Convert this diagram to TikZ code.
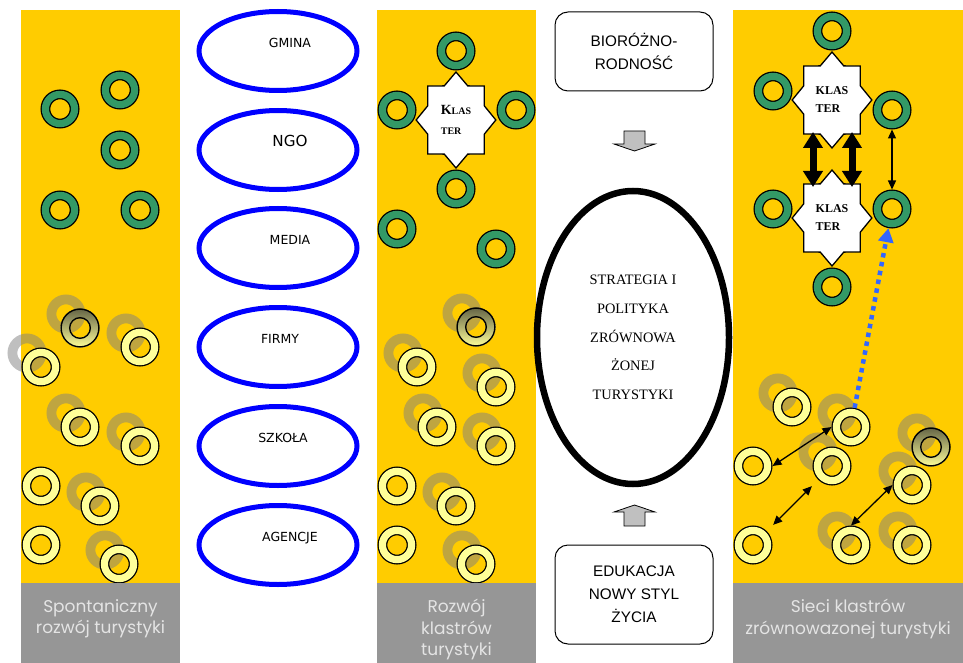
\documentclass[tikz,border=0pt]{standalone}
\usepackage{fontspec}
\usetikzlibrary{arrows.meta,shapes.geometric,calc}
\newfontfamily\orgfont{DejaVu Sans}
\newfontfamily\boxfont{Liberation Sans}
\newfontfamily\serffont{Liberation Serif}
\newfontfamily\capfont{Poppins}
\definecolor{panelCol}{RGB}{255,204,0}
\definecolor{capCol}{RGB}{150,150,150}
\definecolor{capText}{RGB}{228,228,228}
\definecolor{ringGreen}{RGB}{51,153,102}
\definecolor{ringYellow}{RGB}{255,255,153}
\definecolor{gradTop}{RGB}{100,100,70}
\definecolor{netBlue}{RGB}{51,102,255}
\definecolor{arrGray}{RGB}{192,192,192}
\newcommand\olab[2]{\hspace*{#1}\raisebox{3.5pt}[0pt][0pt]{#2}}
\newcommand\sx[1]{\scalebox{1.2}[1]{#1}}
\tikzset{
  ring/.style={circle,draw=black,line width=1.3pt,double distance=7.2pt,
               minimum size=29.2pt,inner sep=0pt,outer sep=4.9pt},
  grn/.style={ring,double=ringGreen},
  ylw/.style={ring,double=ringYellow},
  shd/.style={draw=black!50,line width=9.8pt,opacity=0.5},
  klas/.style={star,star points=8,star point ratio=1.3,draw,line width=1.3pt,fill=white,
               minimum size=96pt,inner sep=0pt,xscale=0.83,align=left},
  org/.style={ellipse,draw=blue,line width=5pt,minimum width=158pt,minimum height=79pt,
              inner sep=0pt,font=\orgfont\fontsize{12.5}{15}\selectfont},
  note/.style={draw,rounded corners=13pt,line width=1pt,minimum width=158pt,align=center,
               font=\boxfont\fontsize{15.3}{22.8}\selectfont},
  captxt/.style={anchor=north,align=center,inner sep=0pt,text=capText,
              font=\capfont\fontsize{17}{21.5}\selectfont},
  blk/.style={draw,fill=arrGray,line width=0.8pt},
}

\begin{document}
\begin{tikzpicture}[x=1pt,y=-1pt,
      fat/.style={{Triangle[length=16pt,width=19pt]}-{Triangle[length=16pt,width=19pt]},line width=7pt},
      dbl/.style={{Triangle[length=9pt,width=8pt]}-{Triangle[length=9pt,width=8pt]},line width=1.3pt},
      net/.style={-{Triangle[length=14pt,width=15pt]},draw=netBlue,line width=4.5pt,
                  dash pattern=on 4.5pt off 4.5pt}]
    \useasboundingbox (0,0) rectangle (963,663);
    % yellow panels
    \foreach \xa/\xb in {21/180,377/536,733/963}
       \fill[panelCol] (\xa,10) rectangle (\xb,583);
    % shadows under the yellow rings
    \foreach \x/\y in {80/328,140/347,41/367,80/427,140/446,100/506,119/564,
                       476/327,417/367,496/387,437/427,496/446,456/506,476/564,
                       792/407,851/427,832/466,931/447,912/485,851/545,912/545}
       \draw[shd] (\x-14,\y-14) circle (14.6pt);
    % clusters
    \node[klas,font=\serffont\bfseries\fontsize{10}{20}\selectfont] (klB) at (456,120)
       {\sx{{\fontsize{14}{20}\selectfont K}LAS}\\\sx{TER}};
    \node[klas,font=\serffont\bfseries\fontsize{12}{18}\selectfont] (klC1) at (832,100) {\sx{KLAS}\\\sx{TER}};
    \node[klas,font=\serffont\bfseries\fontsize{12}{18}\selectfont] (klC2) at (832,218) {\sx{KLAS}\\\sx{TER}};
    % green rings
    \foreach \x/\y [count=\i] in {60/109,120/90,120/150,60/210,140/210}
       \node[grn] (gA\i) at (\x,\y) {};
    \foreach \x/\y [count=\i] in {456/51,397/110,516/110,456/189,397/229,496/249}
       \node[grn] (gB\i) at (\x,\y) {};
    \foreach \x/\y [count=\i] in {832/31,773/91,892/110,773/209,892/209,832/287}
       \node[grn] (gC\i) at (\x,\y) {};
    % yellow rings
    \foreach \x/\y [count=\i] in {80/328,140/347,41/367,80/427,140/446,41/486,100/506,41/545,119/564}
       \node[ylw] (yA\i) at (\x,\y) {};
    \foreach \x/\y [count=\i] in {476/327,417/367,496/387,437/427,496/446,397/486,456/506,397/545,476/564}
       \node[ylw] (yB\i) at (\x,\y) {};
    \foreach \x/\y [count=\i] in {792/407,851/427,753/466,832/466,931/447,912/485,753/545,851/545,912/545}
       \node[ylw] (yC\i) at (\x,\y) {};
    \foreach \g in {yA1,yB1,yC5}{
       \shade[top color=gradTop,bottom color=ringYellow,even odd rule]
          (\g.center) circle (19.5pt) (\g.center) circle (9.7pt);
       \draw[line width=1.3pt] (\g.center) circle (18.85pt) (\g.center) circle (10.35pt);
    }
    % links in the network panel
    \draw[fat] ([xshift=-19pt,yshift=-32pt]klC1.center) -- ([xshift=-19pt,yshift=31pt]klC2.center);
    \draw[fat] ([xshift=20pt,yshift=-32pt]klC1.center) -- ([xshift=20pt,yshift=31pt]klC2.center);
    \draw[dbl] (gC3) -- (gC5);
    \draw[net] (yC2) -- (gC5);
    \draw[dbl] (yC3.east) -- (yC2.west);
    \draw[dbl,shorten <=9pt,shorten >=9pt] (yC7) -- (yC4);
    \draw[dbl] (yC8.north) -- (yC6.west);
    % caption strips
    \foreach \xa/\xb in {21/180,377/536,733/963}
       \fill[capCol] (\xa,583) rectangle (\xb,663);
    \node[captxt] (capA) at (100.5,599) {Spontaniczny\\rozwój turystyki};
    \node[captxt] (capB) at (456.5,599) {Rozwój\\klastrów\\turystyki};
    \node[captxt] (capC) at (848,599) {Sieci klastrów\\zrównowazonej turystyki};
    % actors
    \foreach \n/\y/\dx/\t in {gmina/51/24/GMINA,ngo/150/24/{\fontsize{15.2}{18}\selectfont NGO},
                              media/248/24/MEDIA,firmy/347/4/FIRMY,szkola/446/10/SZKOŁA,
                              agencje/545/24/AGENCJE}
       \node[org] (\n) at (278,\y) {\olab{\dx pt}{\t}};
    % middle column
    \node[note,minimum height=79pt] (bio) at (634,51.5) {BIORÓŻNO-\\RODNOŚĆ};
    \node[ellipse,draw,line width=6.5pt,minimum width=192pt,minimum height=293pt,inner sep=0pt,
          align=center,font=\serffont\fontsize{14.4}{28.8}\selectfont] (strat) at (633,337.5)
       {STRATEGIA I\\POLITYKA\\ZRÓWNOWA\\ŻONEJ\\TURYSTYKI};
    \node[note,minimum height=99pt] (edu) at (634,594.5) {EDUKACJA\\NOWY STYL\\ŻYCIA};
    \draw[blk] (624,131) -- (645,131) -- (645,144) -- (655,144) -- (634.5,151) -- (614,144) -- (624,144) -- cycle;
    \draw[blk] (624,526) -- (645,526) -- (645,512) -- (655,512) -- (634.5,505) -- (614,512) -- (624,512) -- cycle;
\end{tikzpicture}
\end{document}
